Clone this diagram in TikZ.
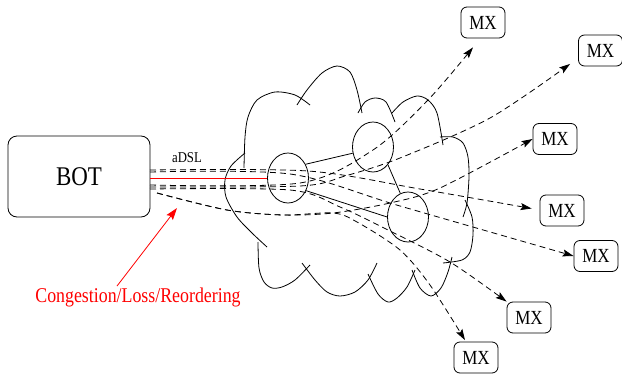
\documentclass[tikz,border=0pt]{standalone}
\usepackage{fontspec}
\setmainfont[FakeStretch=0.85]{Liberation Serif}
\usetikzlibrary{arrows.meta,shapes.geometric}

\begin{document}
\begin{tikzpicture}[x=1pt,y=-1pt,line width=0.8pt,
    host/.style={draw,rounded corners=9pt,minimum width=142pt,minimum height=81pt,font=\fontsize{27}{30}\selectfont},
    mx/.style={draw,rounded corners=6pt,minimum width=44pt,minimum height=31pt,inner sep=0pt,font=\fontsize{20}{22}\selectfont},
    router/.style={draw,ellipse,minimum width=41pt,minimum height=50pt,inner sep=0pt},
    flow/.style={dash pattern=on 6pt off 4pt,-{Stealth[length=11pt,width=7pt,inset=2pt]}},
    cloud/.style={line width=0.8pt}]
    \useasboundingbox (0,0) rectangle (622,375);

    \draw[cloud] plot[smooth] coordinates {(244,168) (245,137) (248,117) (257,100) (275,92) (295,95) (310,105)};
    \draw[cloud] plot[smooth] coordinates {(297,105) (307,90) (322,73) (337,66) (350,72) (357,90) (362,113)};
    \draw[cloud] plot[smooth] coordinates {(358,113) (365,102) (375,98) (386,102) (395,122)};
    \draw[cloud] plot[smooth] coordinates {(392,113) (403,102) (417,96) (428,100) (437,113) (443,145)};
    \draw[cloud] plot[smooth] coordinates {(440,137) (453,137) (463,143) (468,157) (469,177) (467,203) (463,217)};
    \draw[cloud] plot[smooth] coordinates {(465,200) (472,217) (473,235) (470,252) (462,260) (443,263)};
    \draw[cloud] plot[smooth] coordinates {(452,257) (448,272) (441,288) (431,296) (420,288) (412,270)};
    \draw[cloud] plot[smooth] coordinates {(415,270) (407,287) (397,298) (388,302) (378,294) (368,274)};
    \draw[cloud] plot[smooth] coordinates {(377,263) (368,280) (355,292) (340,296) (327,292) (315,280) (302,263)};
    \draw[cloud] plot[smooth] coordinates {(310,265) (295,280) (282,287) (272,288) (264,282) (259,268) (258,242)};
    \draw[cloud] plot[smooth] coordinates {(267,247) (252,233) (237,217) (226,197) (225,180) (231,166) (245,153)};

    \node[host] (bot) at (79,176.5) {BOT};
    \node[font=\fontsize{15}{17}\selectfont] (adsl) at (187,158) {aDSL};

    \node[router] (r_1) at (288,178) {};
    \node[router] (r_2) at (373,147) {};
    \node[router] (r_3) at (408,217) {};

    \node[mx] (mx_1) at (483,22.5) {MX};
    \node[mx] (mx_2) at (600.5,50.5) {MX};
    \node[mx] (mx_3) at (555,139) {MX};
    \node[mx] (mx_4) at (562,210.5) {MX};
    \node[mx] (mx_5) at (596,256) {MX};
    \node[mx] (mx_6) at (529,317.5) {MX};
    \node[mx] (mx_7) at (476,357.5) {MX};

    \node[red,inner sep=1pt,font=\fontsize{21}{23}\selectfont] (cong) at (138,297) {Congestion/Loss/Reordering};

    \coordinate (s_1) at (150,185);
    \coordinate (s_2) at (150,187);
    \coordinate (s_3) at (157,193);
    \coordinate (s_4) at (150,170);
    \coordinate (s_5) at (150,172);
    \coordinate (s_6) at (150,189);
    \coordinate (t_1) at ([xshift=-10pt,yshift=-9pt]mx_1.south);
    \coordinate (t_2) at ([xshift=-8pt,yshift=2.5pt]mx_2.south west);
    \coordinate (t_3) at (mx_3.west);
    \coordinate (t_4) at ([xshift=-8pt,yshift=2pt]mx_4.west);
    \coordinate (t_5) at (mx_5.west);
    \coordinate (t_6) at (mx_6.north west);
    \coordinate (t_7) at ([xshift=-11pt,yshift=1.5pt]mx_7.north);
    \coordinate (loss) at (177,208);

    \draw[red] (bot.east |- r_1) -- (r_1.west);
    \draw (r_1.38) -- (r_2.197);
    \draw (r_2.-50) -- (r_3.108);
    \draw (r_1.-35) -- (r_3.180);

    \draw[flow] plot[smooth,tension=0.5] coordinates {(s_1) (300,183) (373,150) (428,100) (t_1)};
    \draw[flow] plot[smooth,tension=0.5] coordinates {(s_2) (300,186) (345,176) (400,158) (490,118) (t_2)};
    \draw[flow] plot[smooth,tension=0.5] coordinates {(s_3) (227,210) (283,215) (333,213) (390,203) (440,188) (t_3)};
    \draw[flow] plot[smooth,tension=0.5] coordinates {(s_4) (308,171) (420,189) (t_4)};
    \draw[flow] plot[smooth,tension=0.5] coordinates {(s_5) (290,174) (400,206) (t_5)};
    \draw[flow] plot[smooth,tension=0.5] coordinates {(s_6) (290,190) (340,207) (388,230) (450,262) (t_6)};
    \draw[flow] plot[smooth,tension=0.5] coordinates {(s_3) (227,210) (283,215) (333,213) (357,222) (400,250) (430,285) (t_7)};

    \draw[red,-{Stealth[length=12pt,width=8pt,inset=2pt]}] ([xshift=-21pt]cong.north) -- (loss);
\end{tikzpicture}
\end{document}
